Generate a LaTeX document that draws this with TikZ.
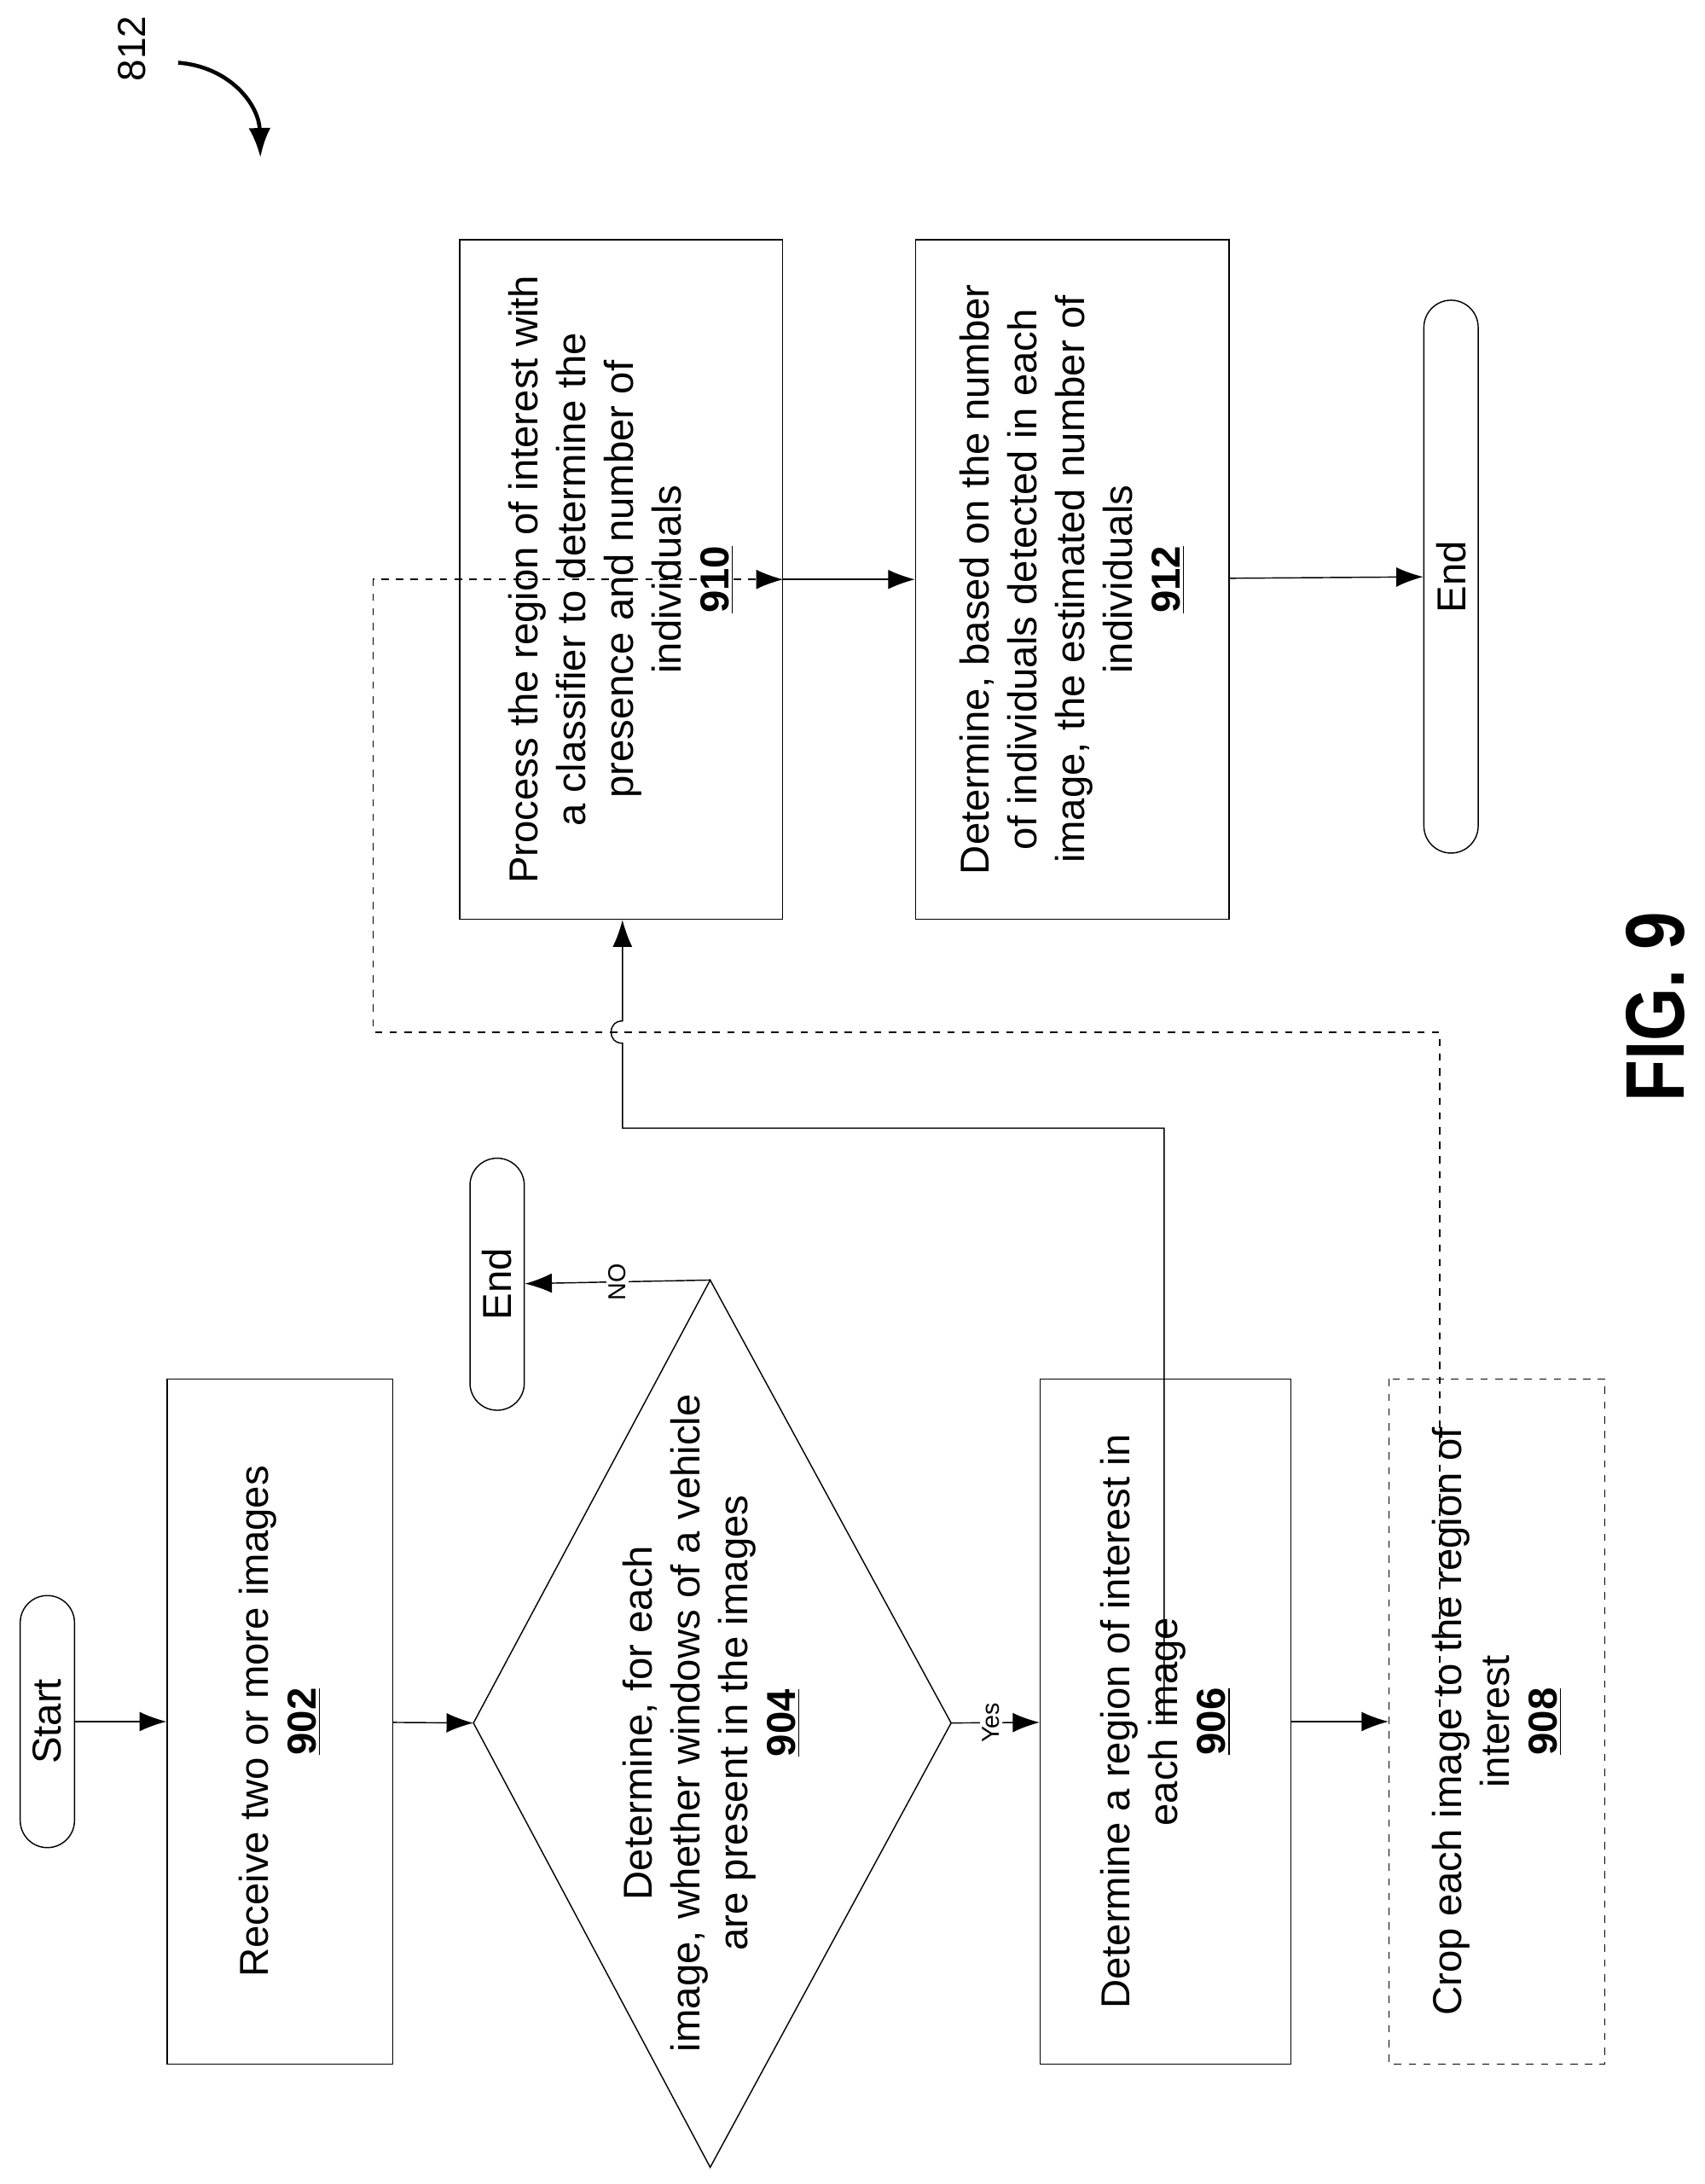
\documentclass[tikz,border=0pt]{standalone}
\usepackage{fontspec}
\setmainfont{Liberation Sans}
\usetikzlibrary{arrows.meta}
\begin{document}
\begin{tikzpicture}[x=0.02cm,y=-0.02cm,
  txt/.style={font=\fontsize{16.5}{19.5}\selectfont, align=center},
  box/.style={draw, line width=0.5pt, rotate=90, txt, inner sep=2pt},
  term/.style={draw, line width=0.5pt, rotate=90, rounded corners=0.39cm, txt, minimum height=0.78cm},
  arr/.style={-{Latex[length=11pt,width=8pt]}, line width=0.5pt},
  lab/.style={rotate=90, fill=white, inner sep=1pt, font=\fontsize{10}{12}\selectfont}]
\useasboundingbox (0,0) rectangle (1224,1568);
\node[term, minimum width=3.62cm] (start) at (34,1236) {Start};
\node[box, minimum width=9.84cm, minimum height=3.24cm] (b902) at (201,1236) {Receive two or more images\\ \underline{\textbf{902}}};
\coordinate (dl) at (340,1237); \coordinate (dt) at (510,919);
\coordinate (dr) at (683,1237); \coordinate (db) at (510,1556);
\draw[line width=0.5pt] (dl) -- (dt) -- (dr) -- (db) -- cycle;
\node[rotate=90, txt] (b904) at (511,1237) {Determine,  for each\\ image, whether windows of a vehicle\\ are present in the images\\ \underline{\textbf{904}}};
\node[term, minimum width=3.62cm] (end1) at (357,922) {End};
\node[box, minimum width=9.84cm, minimum height=3.6cm] (b906) at (837,1236) {Determine a region of interest in\\ each image\\ \underline{\textbf{906}}};
\node[box, dashed, minimum width=9.84cm, minimum height=3.1cm] (b908) at (1075,1236) {Crop each image to the region of\\ interest\\ \underline{\textbf{908}}};
\node[box, minimum width=9.76cm, minimum height=4.64cm] (b910) at (446,416) {Process the region of interest with\\ a classifier to determine the\\ presence and number of\\ individuals\\ \underline{\textbf{910}}};
\node[box, minimum width=9.76cm, minimum height=4.5cm] (b912) at (770,416) {Determine, based on the number\\ of individuals detected in each\\ image, the estimated number of\\ individuals\\ \underline{\textbf{912}}};
\node[term, minimum width=7.94cm] (end2) at (1042,414) {End};
\draw[arr] (start) -- (b902);
\draw[arr] (b902) -- (dl);
\draw[arr] (dr) -- node[lab, pos=0.45] {Yes} (b906);
\draw[arr] (dt) -- node[lab, pos=0.5] {NO} (end1);
\draw[arr] (b906) -- (b908);
\draw[arr] (b910) -- (b912);
\draw[arr] (b912) -- (end2);
\coordinate (s1) at (836,810); \coordinate (s2) at (447,810);
\draw[arr] (b906.north -| s1) -- (s1) -- (s2) -- (447,749) .. controls (436,749) and (436,733) .. (447,733) -- (b910.west -| s2);
\coordinate (d1) at (1034,741); \coordinate (d2) at (268,741); \coordinate (d3) at (268,416);
\draw[arr, dashed] (b908.north -| d1) -- (d1) -- (d2) -- (d3) -- (b910.south);
\node[rotate=90, font=\fontsize{16}{19}\selectfont] (n812) at (95,35) {812};
\coordinate (c1) at (128,45); \coordinate (c2) at (187,113);
\draw[-{Latex[length=12pt,width=9pt]}, line width=1.6pt] (c1) .. controls (165,48) and (186,75) .. (c2);
\node[rotate=90, font=\fontsize{34}{40}\bfseries\selectfont, xscale=0.82] (fig) at (1189,723) {FIG. 9};
\end{tikzpicture}
\end{document}
